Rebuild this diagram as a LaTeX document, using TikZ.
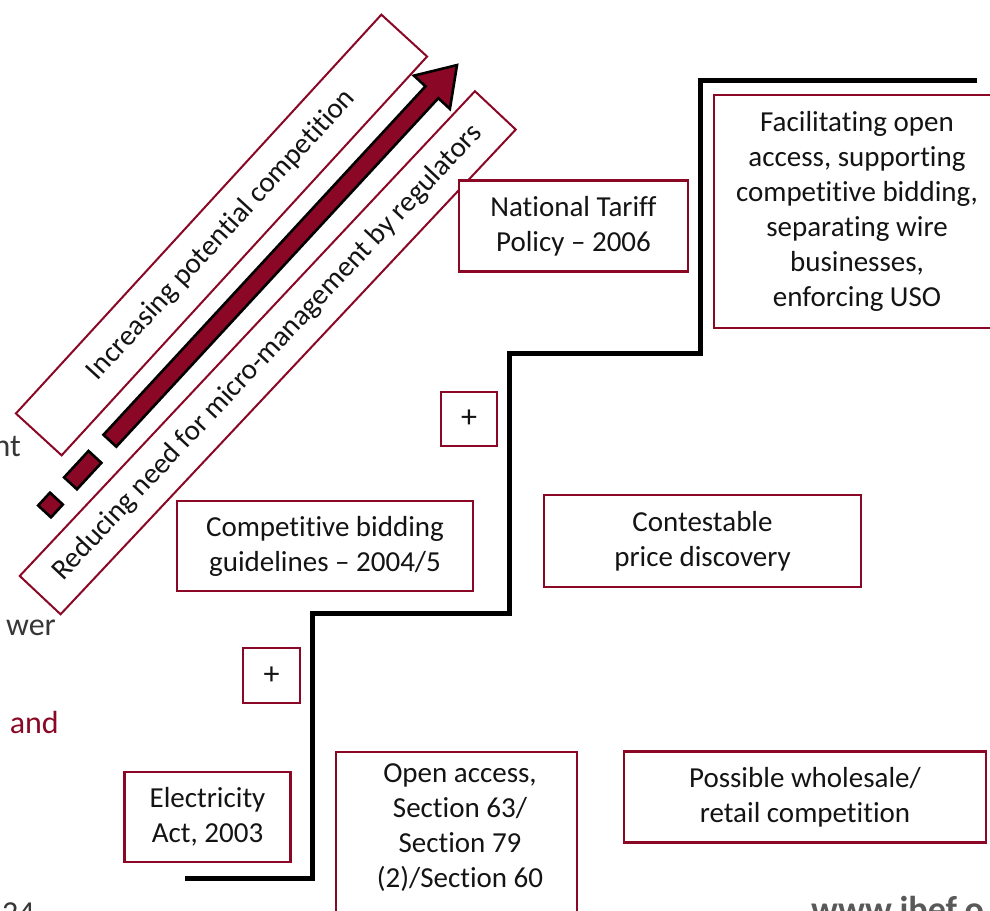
\documentclass[tikz,border=0pt]{standalone}
\usepackage{fontspec}
\setmainfont{Carlito}[Ligatures={TeX,NoCommon}]
\definecolor{maroon}{RGB}{138,8,38}
\definecolor{ink}{RGB}{20,20,20}
\definecolor{leftgray}{RGB}{55,55,55}
\begin{document}
\begin{tikzpicture}[x=1pt,y=-1pt,
  box/.style={draw=maroon, line width=2.4pt, fill=white, align=center, inner sep=0pt, text=ink, font=\fontsize{29}{35}\selectfont},
  plainbox/.style={draw=maroon, line width=2.4pt, fill=white, inner sep=0pt},
  txt/.style={align=center, inner sep=0pt, text=ink, font=\fontsize{29}{35}\selectfont},
  diabox/.style={draw=maroon, line width=2pt, fill=white, inner sep=0pt, text=ink, font=\fontsize{29}{35}\selectfont},
  plusbox/.style={box, font=\fontsize{32}{36}\selectfont},
  arrowpart/.style={fill=maroon, draw=black, line width=2.6pt, line join=miter},
  stair/.style={draw=black, line width=5pt, line join=miter},
  edgetxt/.style={inner sep=0pt, font=\fontsize{32}{38}\selectfont}
]
\useasboundingbox (0,0) rectangle (990,910);
\clip (0,0) rectangle (990,910);

% diagonal labelled bands
\node[diabox, minimum width=541pt, minimum height=62pt, rotate=47.5] (inc) at (221.5,235) {Increasing potential competition};
\node[diabox, minimum width=665pt, minimum height=56pt, rotate=46.8] (red) at (267.75,352.75) {Reducing need for micro-management by regulators};

% arrow with leading dashes
\begin{scope}[shift={(50.5,505)}, rotate=47.26]
  \draw[arrowpart] (-8.75,-8.75) rectangle (8.75,8.75);
  \draw[arrowpart] (29.5,-8.75) rectangle (65.5,8.75);
  \draw[arrowpart] (87.5,-8.75) -- (562,-8.75) -- (562,-24.5) -- (599,0) -- (562,24.5) -- (562,8.75) -- (87.5,8.75) -- cycle;
\end{scope}

% staircase
\draw[stair] (185,878) -- (312,878) -- (312,613) -- (509,613) -- (509,353) -- (700,353) -- (700,80) -- (977,80);

% boxes
\node[box, minimum width=229pt, minimum height=91pt] (nat) at (573.5,226) {National Tariff\\Policy – 2006};
\node[box, minimum width=286pt, minimum height=233pt] (fac) at (857,211.5) {Facilitating open\\access, supporting\\competitive bidding,\\separating wire\\businesses,\\enforcing USO};
\node[plusbox, minimum width=56pt, minimum height=54pt] (plusa) at (469,419) {+};
\node[box, minimum width=296pt, minimum height=90pt] (comp) at (325,546) {Competitive bidding\\guidelines – 2004/5};
\node[box, minimum width=317pt, minimum height=92pt] (cont) at (702.5,541) {Contestable\\price discovery};
\node[plusbox, minimum width=57pt, minimum height=55pt] (plusb) at (271.5,675.5) {+};
\node[box, minimum width=166pt, minimum height=90pt] (elec) at (207.5,817) {Electricity\\Act, 2003};
\node[plainbox, minimum width=241pt, minimum height=200pt] (open) at (456.5,852) {};
\node[txt] (opentxt) at (460,828) {Open access,\\Section 63/\\Section 79\\(2)/Section 60};
\node[box, minimum width=362pt, minimum height=91pt] (poss) at (805,797) {Possible wholesale/\\retail competition};

% cut-off texts at the edges
\node[edgetxt, anchor=base east, text=leftgray] (lnt) at (21,456) {nt};
\node[edgetxt, anchor=base east, text=leftgray] (lwer) at (56,635) {wer};
\node[edgetxt, anchor=base east, text=maroon] (land) at (59,733) {and};
\node[edgetxt, anchor=base west, text=leftgray] (lnum) at (2,923) {24};
\node[inner sep=0pt, anchor=base west, text=black!65, font=\fontsize{36}{40}\selectfont\bfseries] (web) at (811,921) {www.ibef.o};
\end{tikzpicture}
\end{document}
